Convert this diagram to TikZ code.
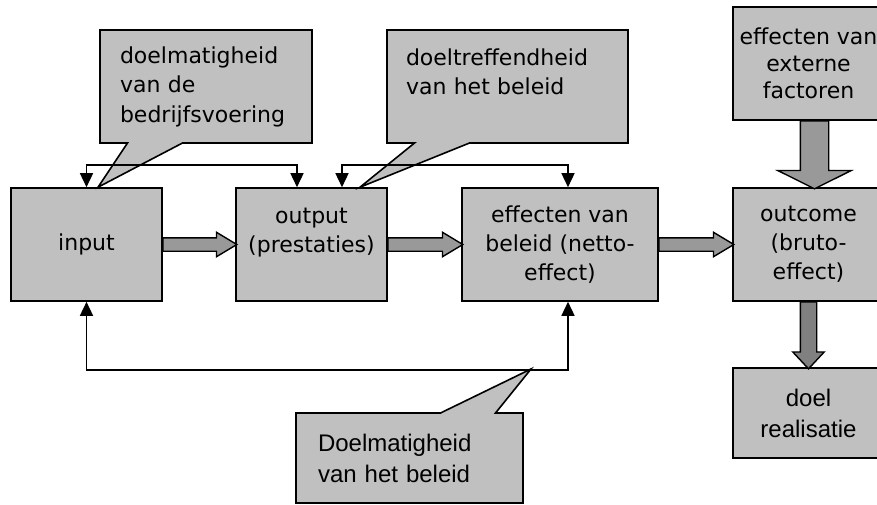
\documentclass[tikz,border=0pt]{standalone}
\usepackage{fontspec}
\setmainfont{DejaVu Sans}
\newfontfamily\arialfont{Liberation Sans}
\usetikzlibrary{positioning,calc,shapes.callouts,shapes.arrows,arrows.meta}

\begin{document}
\begin{tikzpicture}[x=1pt,y=-1pt,
  box/.style={draw=black, line width=1.6pt, fill=boxgray, minimum height=113pt, align=center, inner sep=0pt, font=\fontsize{22}{29}\selectfont},
  talk/.style={rectangle callout, draw=black, line width=1.6pt, fill=boxgray, callout pointer width=55pt, align=left, inner sep=0pt, font=\fontsize{22}{29.5}\selectfont},
  fatarrow/.style={single arrow, draw=black, line width=1.4pt, fill=arrowgray, inner xsep=0pt, outer sep=0pt, single arrow head indent=0pt, anchor=tail},
  link/.style={line width=1.5pt, {Triangle[length=14pt,width=13pt]}-{Triangle[length=14pt,width=13pt]}}]
\definecolor{boxgray}{HTML}{C0C0C0}
\definecolor{arrowgray}{HTML}{999999}
\definecolor{deepgray}{HTML}{808080}
\useasboundingbox (0,0) rectangle (877,504);
% the chain of boxes
\node[box, minimum width=151pt] (input) at (86.5,244.5) {input};
\node[box, minimum width=151pt] (output) at (311.5,244.5) {output\\(prestaties)\\\mbox{}};
\node[box, minimum width=196pt] (effect) at (560,244.5) {effecten van\\beleid (netto-\\effect)};
\node[box, minimum width=151pt] (outcome) at (808.5,244.5) {outcome\\(bruto-\\effect)};
\node[box, minimum width=151pt, font=\fontsize{22}{27}\selectfont] (extern) at (808.5,63.5) {effecten van\\externe\\factoren};
\node[box, minimum width=151pt, minimum height=90pt, font=\arialfont\fontsize{24}{31}\selectfont] (doel) at (808.5,413) {doel\\realisatie};
% callouts
\node[talk, minimum width=212pt, minimum height=113pt, text width=172pt, callout absolute pointer={([xshift=11.5pt]input.north)}] (bedrijf) at (206,86.5) {doelmatigheid\\van de\\bedrijfsvoering};
\node[talk, minimum width=241pt, minimum height=113pt, text width=203pt, callout absolute pointer={([xshift=48.5pt]output.north)}] (treffend) at (507.5,86.5) {doeltreffendheid\\van het beleid\\\mbox{}};
\node[talk, minimum width=227pt, minimum height=90pt, text width=183pt, font=\arialfont\fontsize{24}{31}\selectfont, callout absolute pointer={(531,369)}] (beleid) at (409.5,458) {Doelmatigheid\\van het beleid};
% fat arrows
\node[fatarrow, minimum height=74pt, inner ysep=6pt, single arrow head extend=5.5pt, single arrow tip angle=62] (push1) at (input.east) {};
\node[fatarrow, minimum height=75pt, inner ysep=6pt, single arrow head extend=5.5pt, single arrow tip angle=62] (push2) at (output.east) {};
\node[fatarrow, minimum height=75pt, inner ysep=6pt, single arrow head extend=5.5pt, single arrow tip angle=62] (push3) at (effect.east) {};
\node[fatarrow, minimum height=68pt, inner ysep=13.5pt, single arrow head extend=22.5pt, single arrow tip angle=127, rotate=-90] (push4) at ([xshift=6pt]extern.south) {};
\node[fatarrow, fill=deepgray, minimum height=67pt, inner ysep=7.5pt, single arrow head extend=7.5pt, single arrow tip angle=86, rotate=-90] (push5) at (outcome.south) {};
% thin connectors
\draw[link] (input.north) -- ++(0,-22) -| ([xshift=-14.5pt]output.north);
\draw[link] ([xshift=30.5pt]output.north) -- ++(0,-22) -| ([xshift=8pt]effect.north);
\draw[link] (input.south) -- ++(0,68) -| ([xshift=8pt]effect.south);
\end{tikzpicture}
\end{document}
